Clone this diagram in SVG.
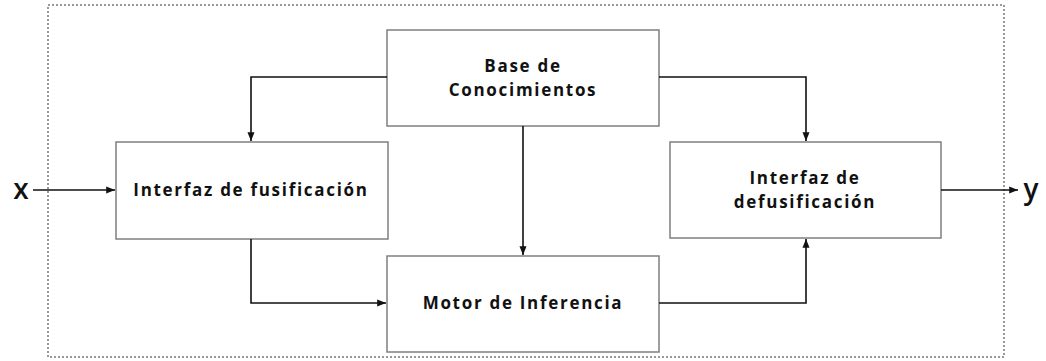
<svg xmlns="http://www.w3.org/2000/svg" width="1046" height="361" viewBox="0 0 1046 361">
<style>
.box{fill:#fff;stroke:#7f7f7f;stroke-width:1.5}
.lbl{font-family:"Open Sans","Liberation Sans",sans-serif;font-weight:bold;font-size:17px;letter-spacing:1.7px;fill:#111;text-anchor:middle}
.io{font-family:"Open Sans","Liberation Sans",sans-serif;font-weight:600;font-size:28px;fill:#111;text-anchor:middle}
.con{fill:none;stroke:#111;stroke-width:1.6;marker-end:url(#ah)}
</style>
<defs>
<marker id="ah" viewBox="0 0 10 10" refX="10" refY="5" markerWidth="5.5" markerHeight="5.5" orient="auto" markerUnits="strokeWidth"><path d="M0,1 L10,5 L0,9 z" fill="#111"/></marker>
</defs>
<rect x="48" y="5" width="956" height="352" fill="none" stroke="#333" stroke-width="1" stroke-dasharray="2,2"/>
<g id="base"><rect class="box" x="387" y="30" width="272" height="96"/><text class="lbl" x="523" y="72">Base de</text><text class="lbl" x="523" y="96">Conocimientos</text></g>
<g id="fusif"><rect class="box" x="116" y="142" width="272" height="97"/><text class="lbl" x="251" y="196">Interfaz de fusificación</text></g>
<g id="defusif"><rect class="box" x="670" y="142" width="271" height="96"/><text class="lbl" x="805" y="184">Interfaz de</text><text class="lbl" x="805" y="208">defusificación</text></g>
<g id="motor"><rect class="box" x="387" y="256" width="272" height="96"/><text class="lbl" x="523" y="309">Motor de Inferencia</text></g>
<g id="io"><text class="io" x="21" y="199">x</text><text class="io" x="1031" y="199">y</text></g>
<g id="connectors">
<path class="con" d="M387,77 H251 V141"/>
<path class="con" d="M659,77 H806 V141"/>
<path class="con" d="M523,126 V255"/>
<path class="con" d="M251,239 V303 H386"/>
<path class="con" d="M659,303 H806 V239"/>
<path class="con" d="M33,190 H115"/>
<path class="con" d="M941,190 H1018"/>
</g>
</svg>
